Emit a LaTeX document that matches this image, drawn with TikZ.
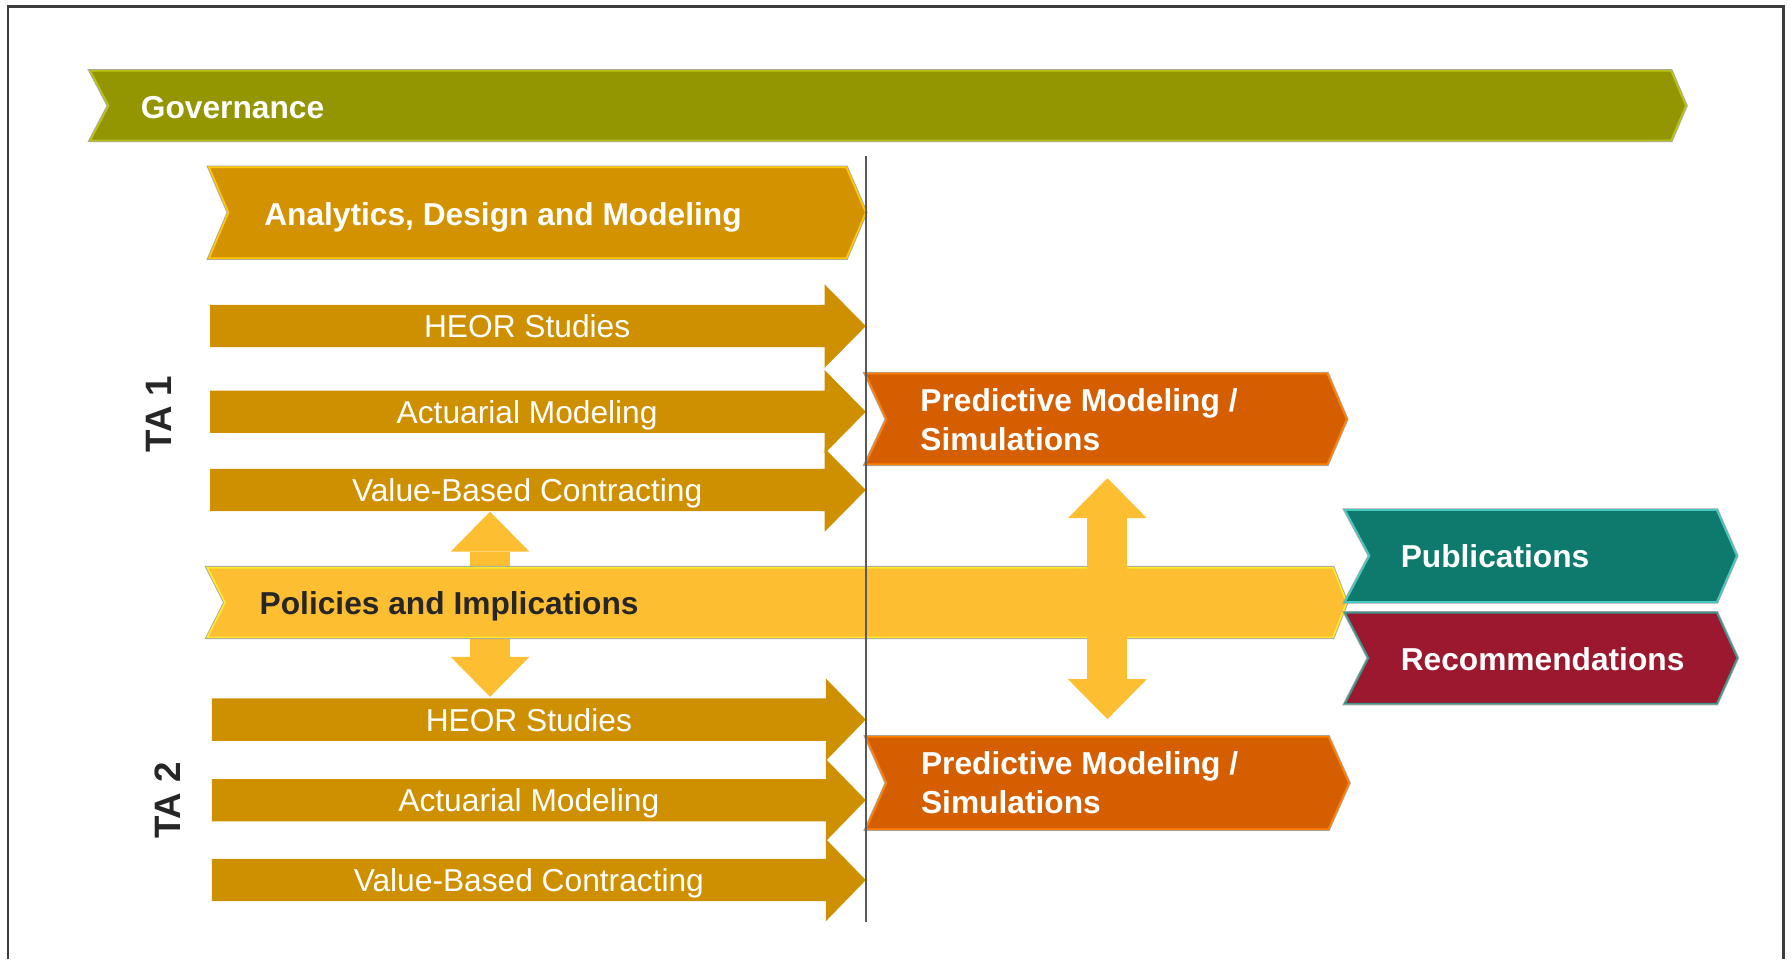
\documentclass[tikz,border=0pt]{standalone}
\usepackage{fontspec}
\setmainfont{Liberation Sans}
\usetikzlibrary{arrows.meta}

\definecolor{framegray}{RGB}{60,60,60}
\definecolor{govgreen}{RGB}{147,150,0}
\definecolor{govedge}{RGB}{185,195,20}
\definecolor{admfill}{RGB}{211,146,0}
\definecolor{admedge}{RGB}{255,200,0}
\definecolor{tafill}{RGB}{207,144,0}
\definecolor{predfill}{RGB}{213,94,0}
\definecolor{prededge}{RGB}{255,128,0}
\definecolor{polfill}{RGB}{254,190,50}
\definecolor{poledge}{RGB}{255,232,40}
\definecolor{pubfill}{RGB}{14,122,110}
\definecolor{pubedge}{RGB}{70,200,190}
\definecolor{recfill}{RGB}{155,24,46}
\definecolor{recedge}{RGB}{60,150,140}
\definecolor{darktext}{RGB}{38,38,38}

\tikzset{
    band/.style = {draw=#1, line width=0.03cm, preaction={draw=black!35, line width=0.06cm}},
    fatarrow/.style = {draw=polfill, line width=0.7cm,
        {Triangle[length=0.7cm, width=1.38cm, line width=0pt]}-{Triangle[length=0.7cm, width=1.38cm, line width=0pt]}},
}

\begin{document}
\begin{tikzpicture}[x=0.02cm, y=-0.02cm]
    \useasboundingbox (0,0) rectangle (1568,840);
    \draw[framegray, line width=0.05cm] (7,840) -- (7,6) -- (1561.5,6) -- (1561.5,840);

    % bands
    \path[band=govedge, fill=govgreen] (79,62) -- (1463,62) -- (1476,92.5) -- (1463,123) -- (79,123) -- (95,92.5) -- cycle;
    \path[band=admedge, fill=admfill] (183,146.5) -- (741,146.5) -- (758,186) -- (741,226) -- (183,226) -- (200,186) -- cycle;

    \fill[tafill] (184,267) -- (722,267) -- (722,249) -- (758,285.5) -- (722,322) -- (722,304) -- (184,304) -- cycle;
    \fill[tafill] (184,342) -- (722,342) -- (722,324) -- (758,360.5) -- (722,397) -- (722,379) -- (184,379) -- cycle;
    \fill[tafill] (184,410.5) -- (722,410.5) -- (722,392.5) -- (758,429) -- (722,465.5) -- (722,447.5) -- (184,447.5) -- cycle;
    \path[band=prededge, fill=predfill] (757.5,327) -- (1162,327) -- (1179,367) -- (1162,406.5) -- (757.5,406.5) -- (776,367) -- cycle;

    \coordinate (vbcA) at (429,448);
    \coordinate (heorB) at (429,610);
    \draw[fatarrow] (vbcA) -- (heorB);

    \path[band=poledge, fill=polfill] (181.5,497) -- (1167,497) -- (1179,527.5) -- (1167,558) -- (181.5,558) -- (197,527.5) -- cycle;
    \path[band=pubedge, fill=pubfill] (1177.5,446.5) -- (1503,446.5) -- (1520.5,486.5) -- (1503,527) -- (1177.5,527) -- (1199,486.5) -- cycle;
    \path[band=recedge, fill=recfill] (1177.5,536.5) -- (1503,536.5) -- (1521,576) -- (1503,616) -- (1177.5,616) -- (1198,576) -- cycle;

    \fill[tafill] (185.5,611.5) -- (723,611.5) -- (723,594) -- (758,630) -- (723,666) -- (723,648.5) -- (185.5,648.5) -- cycle;
    \fill[tafill] (185.5,682) -- (723,682) -- (723,664.5) -- (758,700.5) -- (723,736.5) -- (723,719) -- (185.5,719) -- cycle;
    \fill[tafill] (185.5,752) -- (723,752) -- (723,734.5) -- (758,770.5) -- (723,806.5) -- (723,789) -- (185.5,789) -- cycle;
    \path[band=prededge, fill=predfill] (758,645) -- (1163,645) -- (1181,685.5) -- (1163,726) -- (758,726) -- (776,685.5) -- cycle;

    \draw[black!65, line width=0.03cm] (758,136.5) -- (758,807);

    \coordinate (pmA) at (969.5,418.6);
    \coordinate (pmB) at (969.5,629.6);
    \draw[fatarrow] (pmA) -- (pmB);

    \begin{scope}[every node/.style = {inner sep=0pt, text=white, font=\fontsize{15.8}{19.1}\selectfont\bfseries}]
        \node[anchor=base west] (gov) at (123,103.3) {Governance};
        \node[anchor=base west] (adm) at (231,197) {Analytics, Design and Modeling};
        \node[anchor=base west, text=darktext] (pol) at (227,537.6) {Policies and Implications};
        \node[anchor=base west] (pub) at (1226,496.7) {Publications};
        \node[anchor=base west] (rec) at (1226,586.6) {Recommendations};
        \node[anchor=base west, align=left] (pmtA) at (805.5,394) {Predictive Modeling /\\Simulations};
        \node[anchor=base west, align=left] (pmtB) at (806,712) {Predictive Modeling /\\Simulations};
    \end{scope}
    \begin{scope}[every node/.style = {inner sep=0pt, text=white, anchor=base, font=\fontsize{15.8}{19.1}\selectfont}]
        \node (heorA) at (461.5,295.3) {HEOR Studies};
        \node (actA) at (461.5,370.6) {Actuarial Modeling};
        \node (vbctA) at (461.5,439.2) {Value-Based Contracting};
        \node (heortB) at (463,640.6) {HEOR Studies};
        \node (acttB) at (463,710.6) {Actuarial Modeling};
        \node (vbctB) at (463,780.7) {Value-Based Contracting};
    \end{scope}
    \begin{scope}[every node/.style = {inner sep=0pt, text=darktext, rotate=90, anchor=base, font=\fontsize{18.3}{22}\selectfont\bfseries}]
        \node (taA) at (150.3,362.5) {TA 1};
        \node (taB) at (158.2,700.8) {TA 2};
    \end{scope}
\end{tikzpicture}
\end{document}
